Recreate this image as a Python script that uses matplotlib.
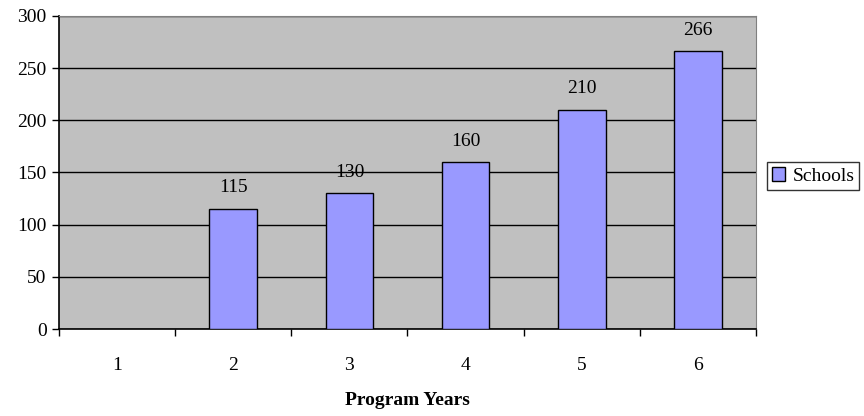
import matplotlib.pyplot as plt
import numpy as np
from matplotlib.patches import Patch

years = ["1", "2", "3", "4", "5", "6"]
schools = [0, 115, 130, 160, 210, 266]
yticks = [0, 50, 100, 150, 200, 250, 300]

plt.rcParams.update({"font.family": "Liberation Serif", "font.size": 14})

fig = plt.figure(figsize=(8.64, 4.16), dpi=100)
ax = fig.add_axes([59 / 864, 1 - 329 / 416, (756 - 59) / 864, (329 - 16) / 416])
ax.set_facecolor("#C0C0C0")

x = np.arange(len(years))
vals = np.array(schools, dtype=float)
mask = vals > 0
ax.bar(x[mask], vals[mask], width=0.41, color="#9999FF", edgecolor="black", linewidth=1.0, zorder=3)
for xi, v in zip(x[mask], vals[mask]):
    ax.text(xi, v + 12, f"{int(v)}", ha="center", va="bottom")

ax.set_xlim(-0.5, len(years) - 0.5)
ax.set_ylim(0, 300)
ax.set_yticks(yticks)
ax.yaxis.grid(True, color="black", linewidth=1.0, zorder=1)
ax.set_axisbelow(True)

ax.set_xticks(np.arange(len(years) + 1) - 0.5)
ax.set_xticklabels([])
ax.set_xticks(x, minor=True)
ax.set_xticklabels(years, minor=True)
ax.tick_params(axis="x", which="major", direction="out", length=5, width=1.0)
ax.tick_params(axis="x", which="minor", length=0, pad=20)
ax.tick_params(axis="y", direction="out", length=5, width=1.0, pad=4)

for side in ("top", "right"):
    ax.spines[side].set_color("#808080")
for side in ("left", "bottom"):
    ax.spines[side].set_color("black")
    ax.spines[side].set_linewidth(1.2)

ax.set_xlabel("Program Years", fontweight="bold", labelpad=13)

handle = Patch(facecolor="#9999FF", edgecolor="black", label="Schools")
leg = fig.legend(handles=[handle], loc="center left", bbox_to_anchor=(767 / 864, 1 - 176 / 416),
                 frameon=True, fancybox=False, edgecolor="black", handlelength=0.7, handleheight=0.7,
                 handletextpad=0.35, borderpad=0.25, borderaxespad=0)
leg.get_frame().set_linewidth(1.0)

fig.savefig("out.png", dpi=100)
